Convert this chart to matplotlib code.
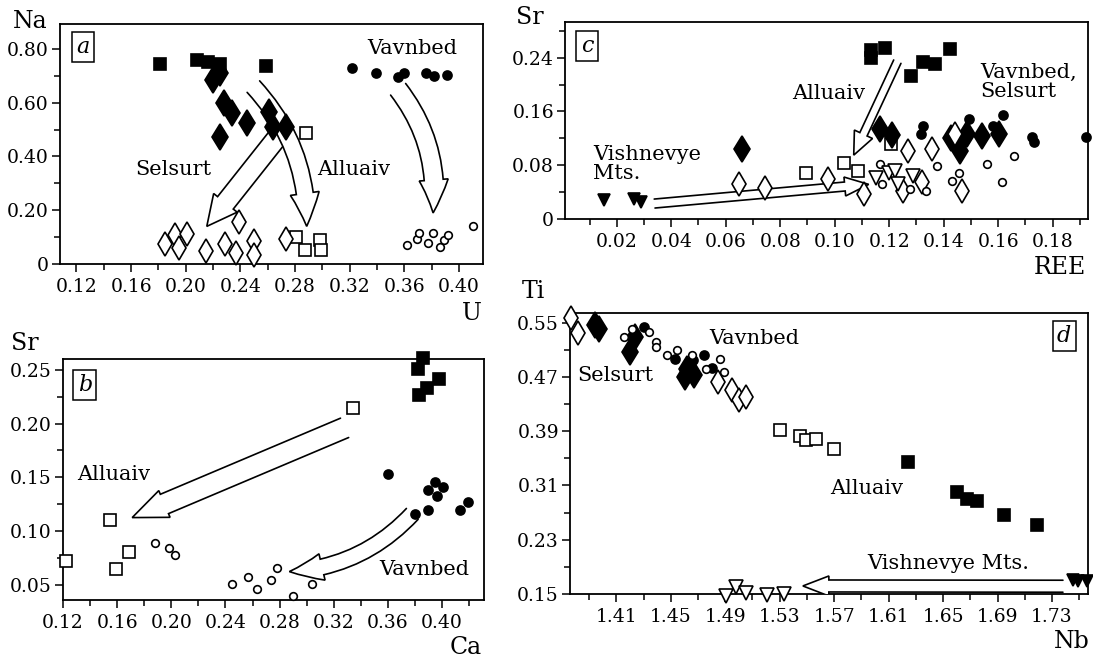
import numpy as np
import matplotlib.pyplot as plt
from matplotlib.patches import FancyArrowPatch, ArrowStyle, PathPatch
from matplotlib.path import Path

plt.rcParams['font.family'] = ['DejaVu Serif']

# --- panel a: U vs Na ---
a_alluaiv_x = [0.181, 0.208, 0.216, 0.225, 0.259]
a_alluaiv_y = [0.745, 0.760, 0.750, 0.745, 0.737]
a_alluaiv_alt_x = [0.288, 0.281, 0.287, 0.298, 0.299]
a_alluaiv_alt_y = [0.487, 0.100, 0.051, 0.090, 0.051]
a_selsurt_x = [0.220, 0.225, 0.228, 0.234, 0.245, 0.225, 0.261, 0.264, 0.273]
a_selsurt_y = [0.685, 0.710, 0.598, 0.561, 0.524, 0.474, 0.567, 0.511, 0.511]
a_selsurt_alt_x = [0.185, 0.192, 0.195, 0.201, 0.215, 0.229, 0.239, 0.237, 0.250, 0.250, 0.273]
a_selsurt_alt_y = [0.074, 0.108, 0.059, 0.113, 0.047, 0.076, 0.155, 0.041, 0.084, 0.035, 0.094]
a_vavnbed_x = [0.322, 0.339, 0.355, 0.360, 0.376, 0.382, 0.391]
a_vavnbed_y = [0.731, 0.710, 0.697, 0.712, 0.712, 0.700, 0.703]
a_vavnbed_alt_x = [0.362, 0.369, 0.371, 0.377, 0.381, 0.386, 0.389, 0.392, 0.410]
a_vavnbed_alt_y = [0.071, 0.093, 0.115, 0.078, 0.115, 0.064, 0.090, 0.109, 0.142]

# --- panel b: Ca vs Sr ---
b_alluaiv_x = [0.386, 0.382, 0.398, 0.389, 0.383]
b_alluaiv_y = [0.261, 0.251, 0.241, 0.233, 0.227]
b_alluaiv_alt_x = [0.334, 0.155, 0.169, 0.159, 0.122]
b_alluaiv_alt_y = [0.214, 0.110, 0.081, 0.065, 0.072]
b_vavnbed_x = [0.360, 0.380, 0.390, 0.390, 0.395, 0.396, 0.401, 0.413, 0.419]
b_vavnbed_y = [0.153, 0.116, 0.120, 0.138, 0.146, 0.133, 0.141, 0.120, 0.127]
b_vavnbed_alt_x = [0.188, 0.198, 0.203, 0.245, 0.257, 0.263, 0.274, 0.278, 0.290, 0.304]
b_vavnbed_alt_y = [0.089, 0.084, 0.078, 0.051, 0.057, 0.046, 0.055, 0.066, 0.040, 0.051]

# --- panel c: REE vs Sr ---
c_alluaiv_x = [0.1135, 0.1135, 0.1185, 0.128, 0.1324, 0.1369, 0.1424]
c_alluaiv_y = [0.2515, 0.240, 0.254, 0.213, 0.234, 0.230, 0.253]
c_alluaiv_alt_x = [0.0893, 0.1035, 0.1084, 0.1206]
c_alluaiv_alt_y = [0.068, 0.083, 0.0715, 0.112]
c_selsurt_x = [0.0659, 0.1167, 0.121, 0.1427, 0.1452, 0.146, 0.1484, 0.1542, 0.1603]
c_selsurt_y = [0.104, 0.134, 0.125, 0.121, 0.111, 0.1015, 0.126, 0.124, 0.127]
c_selsurt_alt_x = [0.0648, 0.0743, 0.0976, 0.1107, 0.1252, 0.1271, 0.132, 0.1357, 0.1443, 0.1468]
c_selsurt_alt_y = [0.0515, 0.0465, 0.059, 0.0365, 0.041, 0.101, 0.055, 0.104, 0.126, 0.0415]
c_vavnbed_x = [0.1324, 0.1316, 0.1492, 0.1582, 0.1619, 0.1726, 0.1732, 0.1923]
c_vavnbed_y = [0.139, 0.126, 0.148, 0.139, 0.155, 0.1215, 0.115, 0.1215]
c_vavnbed_alt_x = [0.1166, 0.1172, 0.1275, 0.1336, 0.1375, 0.1431, 0.1455, 0.1558, 0.1615, 0.1658]
c_vavnbed_alt_y = [0.0815, 0.0515, 0.0444, 0.0415, 0.0793, 0.0563, 0.0687, 0.0815, 0.0543, 0.0933]
c_vishnevye_x = [0.0155, 0.0263, 0.0288]
c_vishnevye_y = [0.029, 0.030, 0.025]
c_vishnevye_alt_x = [0.1153, 0.120, 0.1222, 0.1232, 0.1288]
c_vishnevye_alt_y = [0.0615, 0.069, 0.0715, 0.0515, 0.064]

# --- panel d: Nb vs Ti ---
d_alluaiv_x = [1.6245, 1.660, 1.6678, 1.6747, 1.695, 1.7188]
d_alluaiv_y = [0.3445, 0.300, 0.2903, 0.2868, 0.2656, 0.2517]
d_alluaiv_alt_x = [1.5305, 1.545, 1.549, 1.557, 1.570]
d_alluaiv_alt_y = [0.392, 0.383, 0.377, 0.378, 0.364]
d_selsurt_x = [1.3946, 1.397, 1.4198, 1.424, 1.4619, 1.4667, 1.4607]
d_selsurt_y = [0.547, 0.5407, 0.5075, 0.530, 0.4829, 0.473, 0.4705]
d_selsurt_alt_x = [1.3767, 1.3816, 1.4846, 1.495, 1.500, 1.505]
d_selsurt_alt_y = [0.557, 0.5347, 0.463, 0.451, 0.436, 0.441]
d_vavnbed_x = [1.430, 1.4533, 1.4741, 1.4802, 1.466]
d_vavnbed_y = [0.5446, 0.4977, 0.5026, 0.4844, 0.495]
d_vavnbed_alt_x = [1.4159, 1.4215, 1.4337, 1.4394, 1.4394, 1.4472, 1.4545, 1.4656, 1.476, 1.4863, 1.4888]
d_vavnbed_alt_y = [0.5297, 0.542, 0.537, 0.5223, 0.515, 0.5026, 0.510, 0.5026, 0.4829, 0.4977, 0.4778]
d_vishnevye_x = [1.7452, 1.7494, 1.7555]
d_vishnevye_y = [0.1703, 0.168, 0.1683]
d_vishnevye_alt_x = [1.4906, 1.4976, 1.5052, 1.5207, 1.5333]
d_vishnevye_alt_y = [0.1465, 0.160, 0.1515, 0.148, 0.150]

# marker look for each group
STYLE = {
    'alluaiv': dict(marker='s', ms=9, mfc='black'),
    'alluaiv_alt': dict(marker='s', ms=8.5, mfc='white'),
    'selsurt': dict(marker='d', ms=13, mfc='black'),
    'selsurt_alt': dict(marker='d', ms=12.5, mfc='white'),
    'vavnbed': dict(marker='o', ms=6.5, mfc='black'),
    'vavnbed_alt': dict(marker='o', ms=5.5, mfc='white'),
    'vishnevye': dict(marker='v', ms=9, mfc='black'),
    'vishnevye_alt': dict(marker='v', ms=10, mfc='white'),
}

W, H = 1093, 662
fig = plt.figure(figsize=(W / 100, H / 100), dpi=100)


def px_axes(left, top, right, bottom):
    return fig.add_axes([left / W, 1 - bottom / H, (right - left) / W, (bottom - top) / H])


def fmt(v, pos=None):
    return '0' if abs(v) < 1e-9 else f'{v:.2f}'


def setup(ax, xlim, ylim, xmaj, xmin_, ymaj, ymin_):
    ax.set_xlim(*xlim)
    ax.set_ylim(*ylim)
    ax.set_xticks(xmaj)
    ax.set_xticks(xmin_, minor=True)
    ax.set_yticks(ymaj)
    ax.set_yticks(ymin_, minor=True)
    ax.set_xticklabels([fmt(v) for v in xmaj])
    ax.set_yticklabels([fmt(v) for v in ymaj])
    ax.tick_params(which='both', direction='out', width=1.1, labelsize=13.5)
    ax.tick_params(axis='y', pad=2)
    ax.tick_params(axis='x', pad=4)
    ax.tick_params(which='major', length=6)
    ax.tick_params(which='minor', length=4.5)
    for s in ax.spines.values():
        s.set_linewidth(1.3)


def points(ax, x, y, group):
    ax.plot(x, y, ls='none', mec='black', mew=1.2, clip_on=False, zorder=4, **STYLE[group])


def hollow_arrow(ax, tail, tip, rad=0.0, tail_w=14, head_w=28, head_l=28):
    # sizes in pixels; the outline is left open at the tail end
    style = ArrowStyle.Simple(head_length=head_l, head_width=head_w, tail_width=tail_w)
    arr = FancyArrowPatch(tail, tip, arrowstyle=style, connectionstyle=f'arc3,rad={rad}',
                          mutation_scale=1, shrinkA=0, shrinkB=0, transform=ax.transData)
    arr.set_figure(fig)
    path = arr.get_path()
    ax.add_patch(PathPatch(path, fc='white', ec='none', zorder=3))
    codes = list(path.codes)
    n = len(codes)
    while codes[n - 1] in (Path.CLOSEPOLY,):
        n -= 1
    n -= 1  # drop the closing line across the tail
    outline = Path(path.vertices[:n], path.codes[:n])
    ax.add_patch(PathPatch(outline, fill=False, ec='black', lw=1.2, zorder=3,
                           capstyle='round', joinstyle='miter'))


def panel_tag(ax, x, y, s):
    ax.text(x, y, s, transform=ax.transAxes, ha='center', va='center', fontsize=16,
            style='italic', zorder=6,
            bbox=dict(boxstyle='square,pad=0.2', fc='white', ec='black', lw=1.1))


def fig_label(x, y, s):
    fig.text(x / W, 1 - y / H, s, ha='center', va='center', fontsize=17)


LBL = 15

# ---------- a ----------
ax = px_axes(60, 24, 483, 264)
setup(ax, (0.108, 0.4175), (0, 0.893),
      np.arange(0.12, 0.401, 0.04), np.arange(0.14, 0.401, 0.04),
      np.arange(0, 0.81, 0.2), np.arange(0.1, 0.81, 0.2))
points(ax, a_alluaiv_x, a_alluaiv_y, 'alluaiv')
points(ax, a_alluaiv_alt_x, a_alluaiv_alt_y, 'alluaiv_alt')
points(ax, a_selsurt_x, a_selsurt_y, 'selsurt')
points(ax, a_selsurt_alt_x, a_selsurt_alt_y, 'selsurt_alt')
points(ax, a_vavnbed_x, a_vavnbed_y, 'vavnbed')
points(ax, a_vavnbed_alt_x, a_vavnbed_alt_y, 'vavnbed_alt')
hollow_arrow(ax, (0.2665, 0.468), (0.2154, 0.14), 0.0, 20, 30, 30)
hollow_arrow(ax, (0.2495, 0.66), (0.2885, 0.14), -0.2, 17, 29, 33)
hollow_arrow(ax, (0.3554, 0.65), (0.381, 0.19), -0.2, 19, 29, 33)
ax.text(0.191, 0.35, 'Selsurt', ha='center', va='center', fontsize=LBL)
ax.text(0.3226, 0.35, 'Alluaiv', ha='center', va='center', fontsize=LBL)
ax.text(0.366, 0.803, 'Vavnbed', ha='center', va='center', fontsize=LBL)
panel_tag(ax, 0.054, 0.904, 'a')
fig_label(30, 22, 'Na')
fig_label(472, 313, 'U')

# ---------- b ----------
ax = px_axes(63, 359, 484, 600)
setup(ax, (0.12, 0.431), (0.036, 0.260),
      np.arange(0.12, 0.401, 0.04), np.arange(0.14, 0.431, 0.04),
      np.arange(0.05, 0.251, 0.05), np.arange(0.075, 0.251, 0.05))
points(ax, b_alluaiv_x, b_alluaiv_y, 'alluaiv')
points(ax, b_alluaiv_alt_x, b_alluaiv_alt_y, 'alluaiv_alt')
points(ax, b_vavnbed_x, b_vavnbed_y, 'vavnbed')
points(ax, b_vavnbed_alt_x, b_vavnbed_alt_y, 'vavnbed_alt')
hollow_arrow(ax, (0.328, 0.196), (0.1711, 0.1126), 0.0, 21, 29, 35)
hollow_arrow(ax, (0.378, 0.116), (0.2872, 0.0624), -0.2, 16, 27, 33)
ax.text(0.1575, 0.1523, 'Alluaiv', ha='center', va='center', fontsize=LBL)
ax.text(0.387, 0.064, 'Vavnbed', ha='center', va='center', fontsize=LBL)
panel_tag(ax, 0.052, 0.892, 'b')
fig_label(25, 343, 'Sr')
fig_label(466, 647, 'Ca')

# ---------- c ----------
ax = px_axes(565, 22, 1088, 219)
setup(ax, (0.001, 0.193), (0, 0.293),
      np.arange(0.02, 0.181, 0.02), np.arange(0.01, 0.193, 0.02),
      np.arange(0, 0.241, 0.08), np.arange(0.04, 0.29, 0.08))
points(ax, c_alluaiv_x, c_alluaiv_y, 'alluaiv')
points(ax, c_alluaiv_alt_x, c_alluaiv_alt_y, 'alluaiv_alt')
points(ax, c_selsurt_x, c_selsurt_y, 'selsurt')
points(ax, c_selsurt_alt_x, c_selsurt_alt_y, 'selsurt_alt')
points(ax, c_vavnbed_x, c_vavnbed_y, 'vavnbed')
points(ax, c_vavnbed_alt_x, c_vavnbed_alt_y, 'vavnbed_alt')
points(ax, c_vishnevye_x, c_vishnevye_y, 'vishnevye')
points(ax, c_vishnevye_alt_x, c_vishnevye_alt_y, 'vishnevye_alt')
hollow_arrow(ax, (0.123, 0.234), (0.107, 0.095), 0.0, 8, 20, 23)
hollow_arrow(ax, (0.0339, 0.023), (0.1125, 0.0515), 0.0, 9, 19, 24)
ax.text(0.0979, 0.1865, 'Alluaiv', ha='center', va='center', fontsize=LBL)
ax.text(0.1536, 0.204, 'Vavnbed,\nSelsurt', ha='left', va='center', fontsize=LBL,
        linespacing=1.0)
ax.text(0.0114, 0.0815, 'Vishnevye\nMts.', ha='left', va='center', fontsize=LBL,
        linespacing=1.0)
panel_tag(ax, 0.042, 0.878, 'c')
fig_label(530, 18, 'Sr')
fig_label(1060, 268, 'REE')

# ---------- d ----------
ax = px_axes(570, 313, 1088, 594)
setup(ax, (1.376, 1.7564), (0.1495, 0.565),
      np.arange(1.41, 1.731, 0.04), np.arange(1.39, 1.756, 0.04),
      np.arange(0.15, 0.551, 0.08), np.arange(0.19, 0.56, 0.08))
points(ax, d_alluaiv_x, d_alluaiv_y, 'alluaiv')
points(ax, d_alluaiv_alt_x, d_alluaiv_alt_y, 'alluaiv_alt')
points(ax, d_selsurt_x, d_selsurt_y, 'selsurt')
points(ax, d_selsurt_alt_x, d_selsurt_alt_y, 'selsurt_alt')
points(ax, d_vavnbed_x, d_vavnbed_y, 'vavnbed')
points(ax, d_vavnbed_alt_x, d_vavnbed_alt_y, 'vavnbed_alt')
points(ax, d_vishnevye_x, d_vishnevye_y, 'vishnevye')
points(ax, d_vishnevye_alt_x, d_vishnevye_alt_y, 'vishnevye_alt')
hollow_arrow(ax, (1.738, 0.161), (1.547, 0.1614), 0.0, 12, 20, 26)
ax.text(1.511, 0.528, 'Vavnbed', ha='center', va='center', fontsize=LBL)
ax.text(1.409, 0.473, 'Selsurt', ha='center', va='center', fontsize=LBL)
ax.text(1.5936, 0.305, 'Alluaiv', ha='center', va='center', fontsize=LBL)
ax.text(1.654, 0.1944, 'Vishnevye Mts.', ha='center', va='center', fontsize=LBL)
panel_tag(ax, 0.954, 0.918, 'd')
fig_label(533, 292, 'Ti')
fig_label(1072, 642, 'Nb')

fig.savefig('out.png', dpi=100)
